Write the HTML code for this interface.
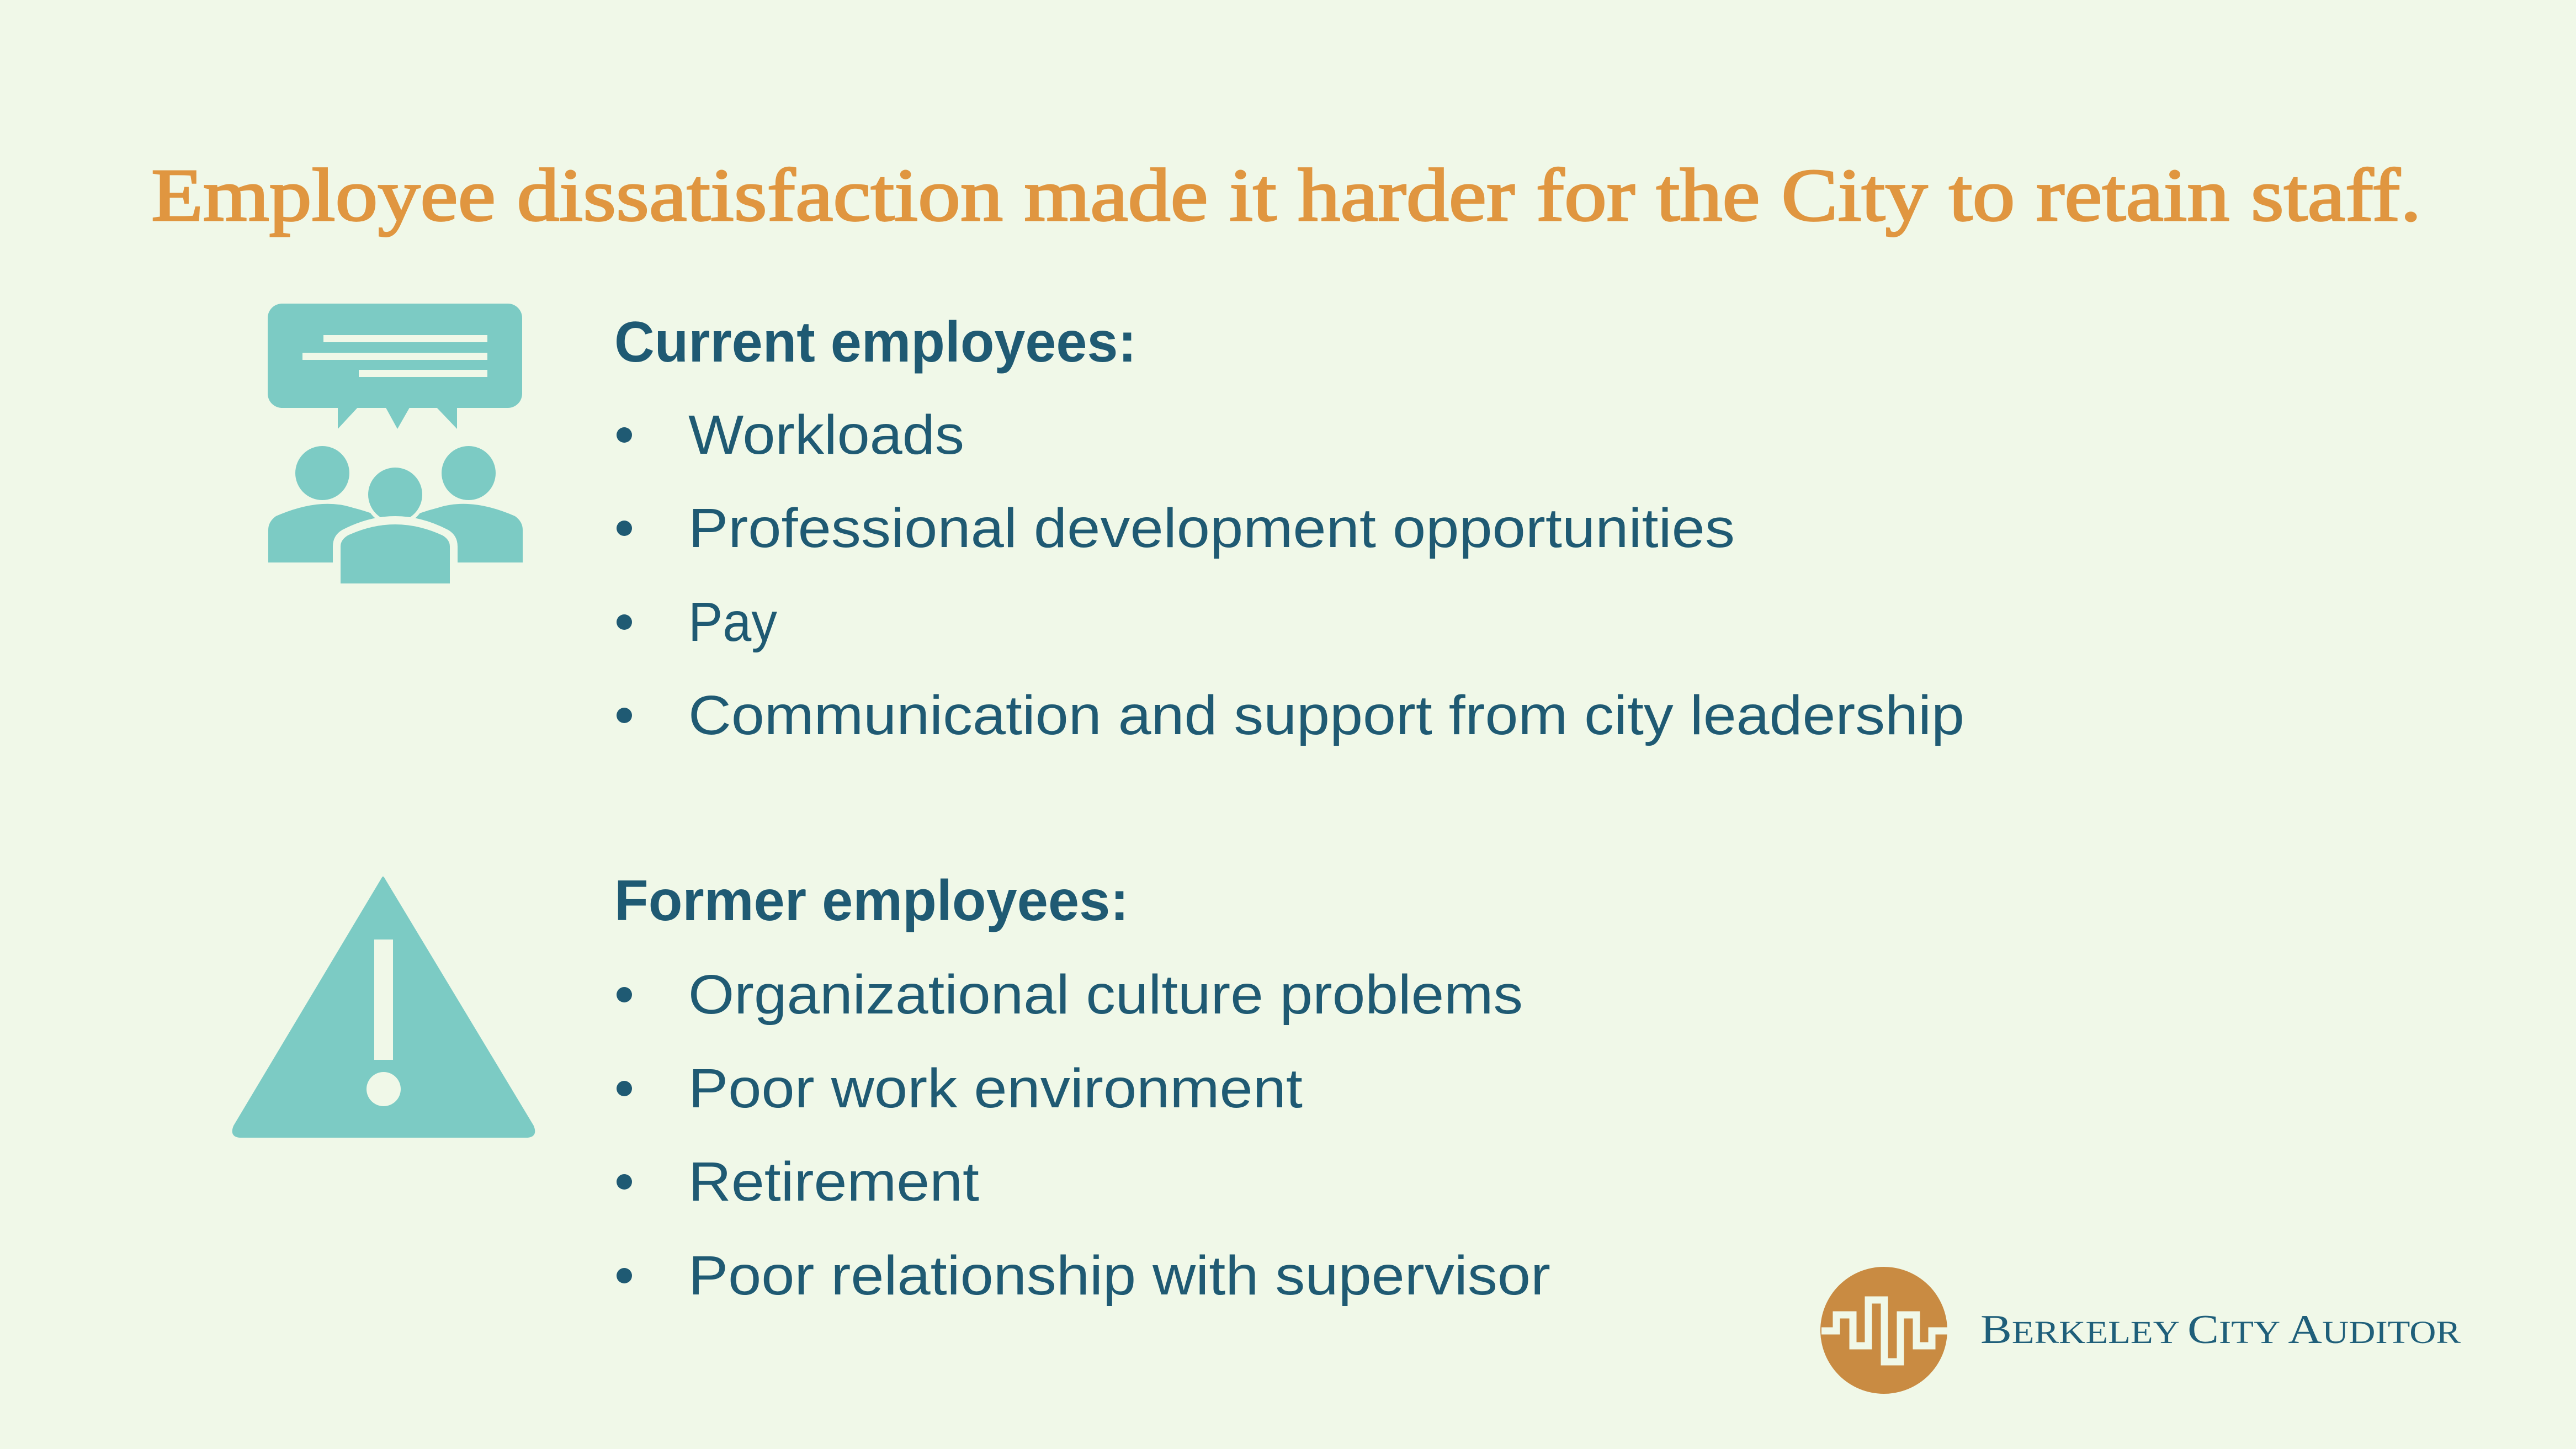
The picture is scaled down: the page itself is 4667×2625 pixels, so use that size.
<!DOCTYPE html>
<html><head><meta charset="utf-8"><style>
html,body{margin:0;padding:0;background:#f0f8e8;}
svg{display:block}
</style></head><body>
<svg width="4667" height="2625" viewBox="0 0 4667 2625" xmlns="http://www.w3.org/2000/svg">
<rect width="4667" height="2625" fill="#f0f8e8"/>
<text x="274" y="399" font-family="'Liberation Serif',serif" font-size="136" fill="#e09640" stroke="#e09640" stroke-width="3" textLength="4113" lengthAdjust="spacingAndGlyphs">Employee dissatisfaction made it harder for the City to retain staff.</text>

<g fill="#7ccbc4">
<rect x="485" y="550" width="461" height="189" rx="26"/>
<polygon points="612,735 651,735 612,777"/>
<polygon points="697,735 744,735 720,777"/>
<polygon points="788,735 828,735 828,777"/>
<rect x="586" y="607" width="297" height="13" fill="#f0f8e8"/>
<rect x="548" y="639" width="335" height="13" fill="#f0f8e8"/>
<rect x="650" y="670" width="233" height="13" fill="#f0f8e8"/>
<ellipse cx="584" cy="857" rx="49" ry="49"/>
<ellipse cx="849" cy="857" rx="49" ry="49"/>
<path d="M486,1019 V960 Q486,945 500,935 Q580,900 640,920 Q680,930 720,950 V1019 Z"/>
<path d="M947,1019 V960 Q947,945 933,935 Q853,900 793,920 Q753,930 713,950 V1019 Z"/>
<ellipse cx="716" cy="896" rx="56" ry="56" fill="#f0f8e8"/>
<ellipse cx="716" cy="896" rx="49" ry="49"/>
<path d="M603,1070 V990 Q603,970 620,960 Q716,910 812,960 Q829,970 829,990 V1070 Z" fill="#f0f8e8"/>
<path d="M617,1057 V990 Q617,978 630,970 Q716,930 802,970 Q815,978 815,990 V1057 Z"/>
</g>

<g>
<path d="M694,1590 L965,2040 Q973,2059 953,2059 L437,2059 Q417,2059 425,2040 Z" fill="#7ccbc4" stroke="#7ccbc4" stroke-width="4" stroke-linejoin="round"/>
<rect x="678" y="1702" width="34" height="218" fill="#f0f8e8"/>
<circle cx="695" cy="1973" r="31" fill="#f0f8e8"/>
</g>

<g font-family="'Liberation Sans',sans-serif" fill="#1f5a73">
<text x="1113" y="655" font-size="104" font-weight="bold" textLength="946" lengthAdjust="spacingAndGlyphs">Current employees:</text>
<g font-size="100">
<circle cx="1131" cy="788" r="14"/><text x="1247" y="822" textLength="500" lengthAdjust="spacingAndGlyphs">Workloads</text>
<circle cx="1131" cy="957" r="14"/><text x="1247" y="991" textLength="1896" lengthAdjust="spacingAndGlyphs">Professional development opportunities</text>
<circle cx="1131" cy="1127" r="14"/><text x="1247" y="1161" textLength="161" lengthAdjust="spacingAndGlyphs">Pay</text>
<circle cx="1131" cy="1296" r="14"/><text x="1247" y="1330" textLength="2312" lengthAdjust="spacingAndGlyphs">Communication and support from city leadership</text>
</g>
<text x="1113" y="1667" font-size="104" font-weight="bold" textLength="932" lengthAdjust="spacingAndGlyphs">Former employees:</text>
<g font-size="100">
<circle cx="1131" cy="1802" r="14"/><text x="1247" y="1836" textLength="1512" lengthAdjust="spacingAndGlyphs">Organizational culture problems</text>
<circle cx="1131" cy="1972" r="14"/><text x="1247" y="2006" textLength="1113" lengthAdjust="spacingAndGlyphs">Poor work environment</text>
<circle cx="1131" cy="2141" r="14"/><text x="1247" y="2175" textLength="527" lengthAdjust="spacingAndGlyphs">Retirement</text>
<circle cx="1131" cy="2311" r="14"/><text x="1247" y="2345" textLength="1562" lengthAdjust="spacingAndGlyphs">Poor relationship with supervisor</text>
</g>
</g>

<g>
<circle cx="3413" cy="2410" r="115" fill="#c98b42"/>
<polyline points="3300,2411 3327,2411 3327,2382 3357,2382 3357,2438 3385,2438 3385,2355 3414,2355 3414,2467 3443,2467 3443,2382 3472,2382 3472,2438 3500,2438 3500,2411 3528,2411" fill="none" stroke="#f0f8e8" stroke-width="13"/>
<text x="3588" y="2433" font-family="'Liberation Serif',serif" font-size="58" fill="#1f5f7a" textLength="870" lengthAdjust="spacingAndGlyphs"><tspan font-size="74">B</tspan>ERKELEY <tspan font-size="74">C</tspan>ITY <tspan font-size="74">A</tspan>UDITOR</text>
</g>
</svg>
</body></html>
